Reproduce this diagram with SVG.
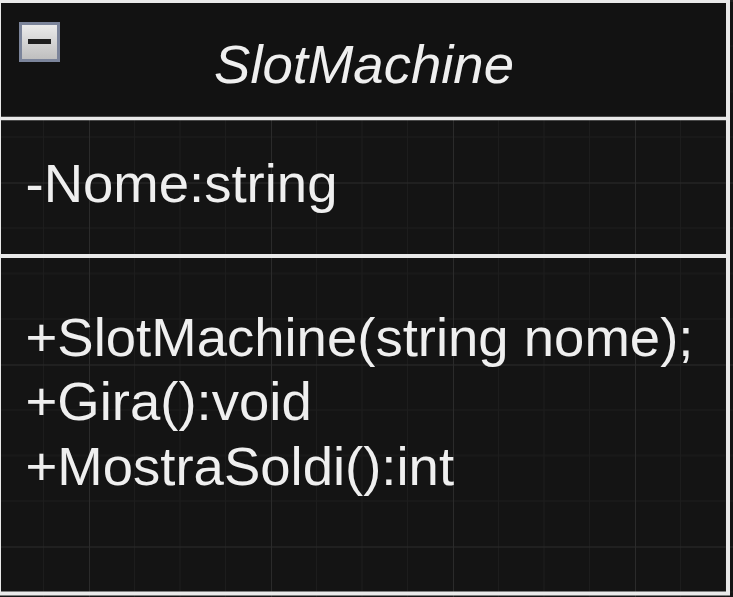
<svg xmlns="http://www.w3.org/2000/svg" width="733" height="597" viewBox="0 0 733 597">
<style>
.t{font-family:"Liberation Sans",Arial,sans-serif;font-size:54.5px;fill:#efefef}
.mi{stroke:#1d1d1d;stroke-width:1}
.ma{stroke:#2b2b2b;stroke-width:1}
</style>
<defs>
<pattern id="grid" patternUnits="userSpaceOnUse" x="89" y="0.5" width="182" height="182">
<rect width="182" height="182" fill="#141414"/>
<path class="mi" d="M45.5 0V182M91 0V182M136.5 0V182M0 45.5H182M0 91H182M0 136.5H182"/>
<path class="ma" d="M0.5 0V182M0 0.5H182"/>
</pattern>
<linearGradient id="btn" x1="0" y1="0" x2="0" y2="1">
<stop offset="0" stop-color="#ececec"/>
<stop offset="1" stop-color="#bdbdbd"/>
</linearGradient>
</defs>
<rect width="733" height="597" fill="url(#grid)"/>
<g id="SlotMachine">
<rect x="-1" y="1" width="729" height="117" fill="#121212"/>
<rect x="-1" y="1" width="729" height="592.5" fill="none" stroke="#e9e9e9" stroke-width="4"/>
<line x1="-1" y1="118.5" x2="728" y2="118.5" stroke="#e9e9e9" stroke-width="3.5"/>
<line x1="-1" y1="256" x2="728" y2="256" stroke="#e9e9e9" stroke-width="4"/>
<g id="collapse">
<rect x="20.5" y="23.5" width="38" height="37" fill="url(#btn)" stroke="#7b849a" stroke-width="3"/>
<rect x="28" y="39" width="23" height="5" fill="#1e1e1e"/>
</g>
<text class="t" x="364" y="83" text-anchor="middle" font-style="italic" font-size="53">SlotMachine</text>
<text class="t" x="25.5" y="202">-Nome:string</text>
<text class="t" x="25.5" y="355.5">+SlotMachine(string nome);</text>
<text class="t" x="25.5" y="420">+Gira():void</text>
<text class="t" x="25.5" y="484.5">+MostraSoldi():int</text>
</g>
<g id="connectors"/>
</svg>
